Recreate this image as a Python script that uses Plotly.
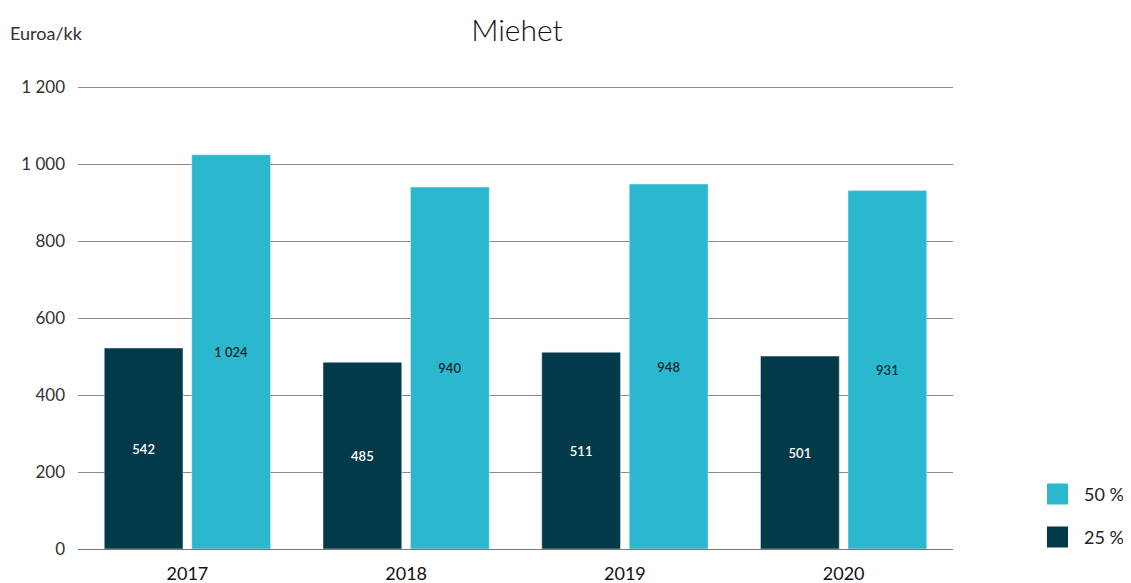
import plotly.graph_objects as go

years = ["2017", "2018", "2019", "2020"]
p25_values = [522, 485, 511, 501]
p25_labels = ["542", "485", "511", "501"]
p50_values = [1024, 940, 948, 931]
p50_labels = ["1 024", "940", "948", "931"]
y_ticks = [0, 200, 400, 600, 800, 1000, 1200]
y_tick_text = ["0", "200", "400", "600", "800", "1 000", "1 200"]
legend_names = ["50 %", "25 %"]

DARK = "#033A4A"
LIGHT = "#2BB8CF"
FONT = "Lato"

# page has 8px body margin; figure is offset by (8, 8)
OFF = 8
W, H = 1131 - OFF, 583 - OFF
PL, PR, PT, PB = 78, 953, 74 + OFF, 549  # plot area in page pixels
PW, PH = PR - PL, PB - PT

def px_x(x):
    return (x - PL) / PW

def px_y(y):
    return (PB - y) / PH

fig = go.Figure()
fig.add_trace(go.Bar(x=years, y=p25_values, text=p25_labels, name="25 %",
                     marker_color=DARK, textposition="inside", insidetextanchor="middle",
                     textfont=dict(color="white", size=13, family=FONT, weight=600),
                     showlegend=False, hoverinfo="skip"))
fig.add_trace(go.Bar(x=years, y=p50_values, text=p50_labels, name="50 %",
                     marker_color=LIGHT, textposition="inside", insidetextanchor="middle",
                     textfont=dict(color="#0a2a33", size=13, family=FONT, weight=600),
                     showlegend=False, hoverinfo="skip"))

shapes = []
annotations = []
for i, (name, col) in enumerate(zip(legend_names, [LIGHT, DARK])):
    yc = 494 + 43 * i
    shapes.append(dict(type="rect", xref="paper", yref="paper",
                       x0=px_x(1047), x1=px_x(1068), y0=px_y(yc + 10.5), y1=px_y(yc - 10.5),
                       fillcolor=col, line=dict(width=0)))
    annotations.append(dict(text=name, xref="paper", yref="paper", x=px_x(1082),
                            y=px_y(yc), xanchor="left", yanchor="middle",
                            showarrow=False, font=dict(size=18, color="#222")))
annotations.append(dict(text="Euroa/kk", xref="paper", yref="paper", x=px_x(8),
                        y=px_y(33), xanchor="left", yanchor="middle",
                        showarrow=False, font=dict(size=18, color="#333")))

fig.update_layout(
    width=W, height=H,
    margin=dict(l=PL - OFF, r=OFF + W - PR, t=PT - OFF, b=OFF + H - PB, autoexpand=False),
    paper_bgcolor="white", plot_bgcolor="white",
    barmode="group", bargap=0.2, bargroupgap=0.1,
    font=dict(family=FONT, color="#222"),
    uniformtext=dict(minsize=13, mode="show"),
    showlegend=False,
    title=dict(text="Miehet", x=(517 - OFF) / W, xanchor="center", y=1 - (30 - OFF) / H,
               yanchor="middle", font=dict(size=30, color="#111", family=FONT, weight=300)),
    shapes=shapes,
    annotations=annotations,
)
fig.update_xaxes(showgrid=False, showline=True, linecolor="#777", linewidth=1,
                 tickfont=dict(size=18, color="#111"), ticks="", ticklabelstandoff=8,
                 automargin=False)
fig.update_yaxes(range=[0, 1200 * PH / 462], tickvals=y_ticks, ticktext=y_tick_text,
                 showgrid=True, gridcolor="#8a8a8a", gridwidth=1, zeroline=False,
                 tickfont=dict(size=17, color="#333"), ticks="", ticklabelstandoff=12,
                 automargin=False)

fig.write_html("out.html")
